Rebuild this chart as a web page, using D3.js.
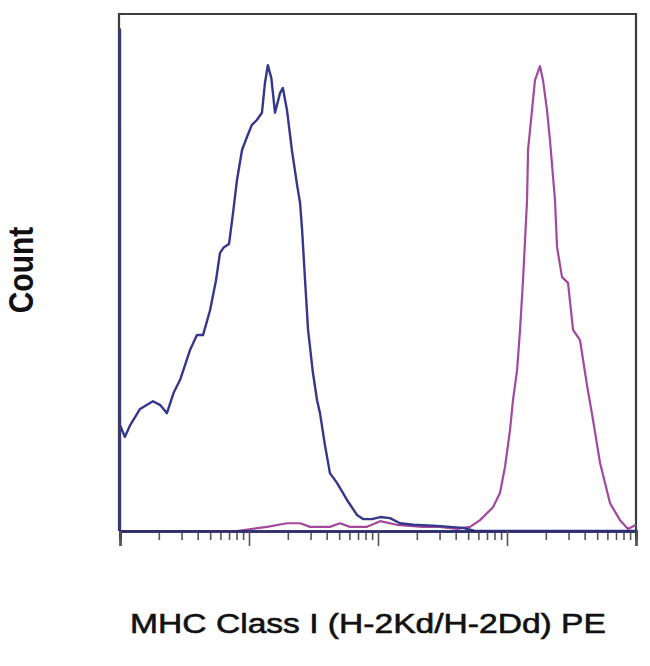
<!DOCTYPE html>
<html>
<head>
<meta charset="utf-8">
<script src="https://cdn.jsdelivr.net/npm/d3@7"></script>
<style>
  html, body { margin: 0; padding: 0; background: #fff; }
  svg { display: block; }
</style>
</head>
<body>
<svg id="chart" width="650" height="666"></svg>
<script>
// ---- Data ----
const xLabel = "MHC Class I (H-2Kd/H-2Dd) PE";
const yLabel = "Count";
const xDomain = [1, 10000];
const yDomain = [0, 100];
const majorTicks = [1, 10, 100, 1000, 10000];

// Unstained / isotype (blue) histogram: fluorescence value, count (% of max scale)
const blueX = [1, 1, 1, 1.09, 1.20, 1.43, 1.80, 2.04, 2.31, 2.62, 2.92, 3.49, 3.95, 4.40, 4.99, 5.55, 5.96, 6.40, 7.00, 7.52, 8.07, 8.83, 9.64, 10.5, 11.5, 12.6, 13.3, 14.0, 14.9, 15.9, 17.4, 18.3, 19.7, 21.5, 23.6, 24.9, 25.8, 27.2, 28.7, 31.3, 33.7, 35.5, 38.8, 42.4, 48.1, 57.5, 68.8, 76.5, 89.8, 104, 124, 148, 187, 286, 456, 565, 10000];
const blueY = [0, 97, 20.5, 18.2, 20.5, 23.6, 25.1, 24.4, 22.8, 26.9, 29.2, 35.0, 37.9, 37.9, 42.7, 48.5, 53.8, 54.9, 55.5, 61.5, 67.9, 73.7, 76.2, 78.5, 79.5, 80.9, 86.7, 90.1, 87.6, 80.9, 84.7, 85.7, 81.4, 73.7, 66.9, 63.4, 58.2, 48.5, 38.9, 30.6, 25.3, 22.8, 16.6, 11.2, 9.3, 6.0, 3.1, 2.3, 2.3, 2.7, 2.5, 1.5, 1.2, 1.0, 0.6, 0, 0];

// Stained (magenta) histogram
const magentaX = [1, 8.07, 13.8, 19.7, 24.9, 29.7, 42.4, 50.8, 60.6, 82.2, 104, 140, 223, 302, 410, 517, 618, 779, 883, 965, 1055, 1113, 1197, 1262, 1331, 1430, 1456, 1563, 1648, 1802, 1901, 2042, 2153, 2355, 2443, 2670, 2972, 3251, 3681, 4171, 4643, 5260, 6285, 7516, 8670, 10000];
const magentaY = [0, 0, 0.8, 1.5, 1.5, 0.8, 0.8, 1.5, 0.8, 0.8, 1.9, 1.2, 0.8, 0.8, 0.4, 0.8, 2.1, 4.6, 7.4, 12.4, 19.5, 25.3, 31.1, 38.9, 48.5, 64.0, 73.7, 81.4, 87.2, 89.9, 87.2, 81.4, 75.6, 64.0, 54.9, 49.1, 48.0, 38.9, 36.9, 28.2, 21.5, 13.2, 5.4, 2.1, 0.4, 1.2];

const blueColor = "#35378a";
const magentaColor = "#a2489f";

// ---- Drawing ----
(function () {
  const svg = d3.select("#chart");
  const mLeft = 120, mRight = 636, mTop = 14, mBottom = 531;

  const x = d3.scaleLog().domain(xDomain).range([mLeft, mRight]);
  const y = d3.scaleLinear().domain(yDomain).range([mBottom, mTop]);

  const line = d3.line().x(d => x(d[0])).y(d => y(d[1]));

  const magentaPts = magentaX.map((v, i) => [v, magentaY[i]]);
  const bluePts = blueX.map((v, i) => [v, blueY[i]]);

  // frame (left, top, right)
  svg.append("path")
    .attr("d", `M${mLeft - 1},${mBottom} V${mTop} H${mRight} V${mBottom + 6}`)
    .attr("fill", "none")
    .attr("stroke", "#3c3c3c")
    .attr("stroke-width", 2.2);

  // histograms
  svg.append("path")
    .datum(magentaPts)
    .attr("d", line)
    .attr("fill", "none")
    .attr("stroke", magentaColor)
    .attr("stroke-width", 2.2)
    .attr("stroke-linejoin", "round");

  svg.append("path")
    .datum(bluePts)
    .attr("d", line)
    .attr("fill", "none")
    .attr("stroke", blueColor)
    .attr("stroke-width", 2.4)
    .attr("stroke-linejoin", "round");

  // x axis: minor ticks then major ticks
  const minorTicks = x.ticks().filter(t => !majorTicks.includes(t));
  const minorAxis = d3.axisBottom(x).tickValues(minorTicks).tickSize(9).tickFormat("");
  const majorAxis = d3.axisBottom(x).tickValues(majorTicks).tickSize(15).tickFormat("");

  const gMinor = svg.append("g").attr("transform", `translate(0,${mBottom})`).call(minorAxis);
  const gMajor = svg.append("g").attr("transform", `translate(0,${mBottom})`).call(majorAxis);
  [gMinor, gMajor].forEach(g => {
    g.select(".domain").attr("stroke", "#2e2e6e").attr("stroke-width", 2.4);
    g.selectAll(".tick line").attr("stroke", "#555").attr("stroke-width", 1.6);
  });

  // labels
  svg.append("text")
    .attr("transform", `translate(368,633) scale(1.2,1)`)
    .attr("text-anchor", "middle")
    .attr("font-family", "Liberation Sans, Arial, sans-serif")
    .attr("font-size", 28)
    .attr("fill", "#111")
    .attr("stroke", "#111")
    .attr("stroke-width", 0.6)
    .text(xLabel);

  svg.append("text")
    .attr("transform", `translate(33,270) scale(1.15,1) rotate(-90)`)
    .attr("text-anchor", "middle")
    .attr("font-family", "Liberation Sans, Arial, sans-serif")
    .attr("font-weight", "bold")
    .attr("font-size", 30)
    .attr("fill", "#111")
    .text(yLabel);
})();
</script>
</body>
</html>
